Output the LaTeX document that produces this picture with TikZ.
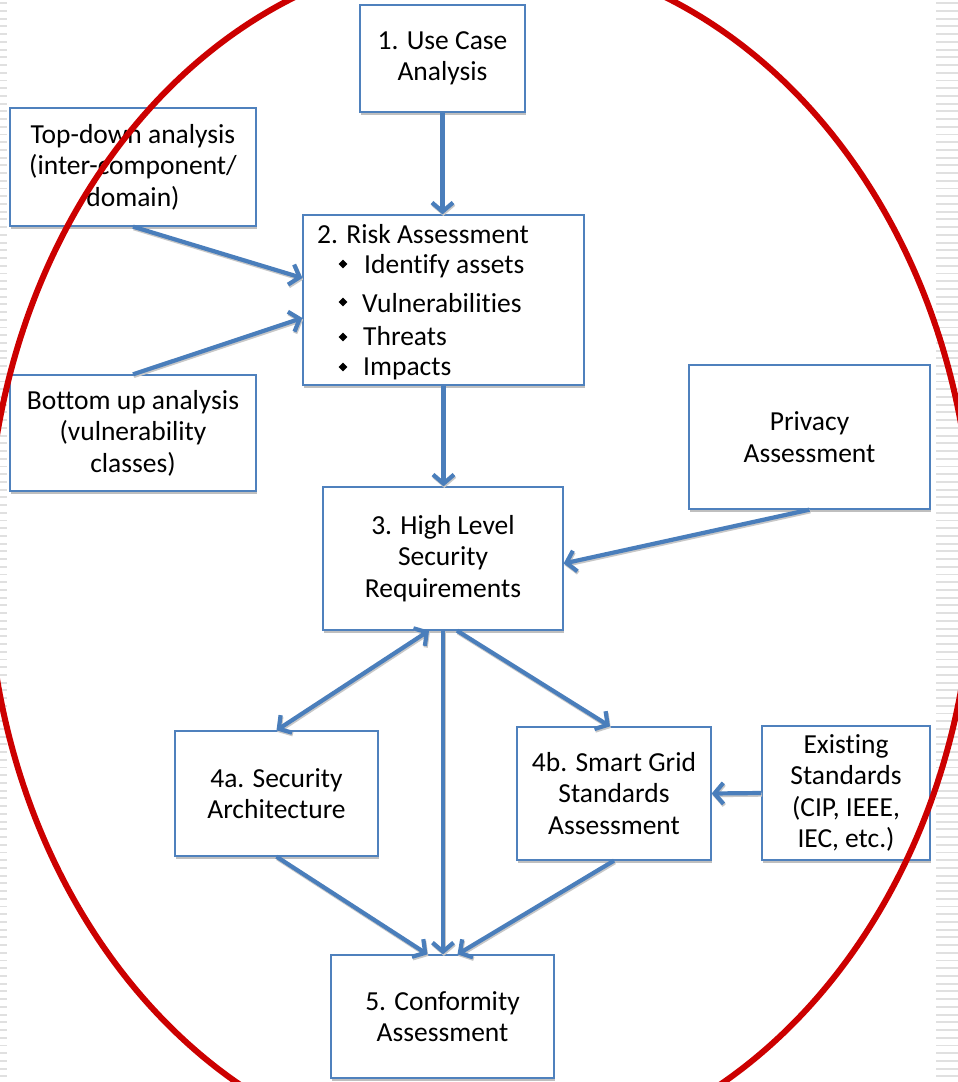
\documentclass[tikz,border=0pt]{standalone}
\usepackage{fontspec}
\setmainfont{Carlito}[Ligatures=NoCommon]
\usetikzlibrary{arrows.meta,shapes.geometric,shadows}
\definecolor{boxblue}{RGB}{79,129,189}
\definecolor{arrblue}{RGB}{74,126,187}
\definecolor{ellred}{RGB}{204,0,0}
\definecolor{stripecol}{RGB}{224,224,224}
\tikzset{
 box/.style={draw=boxblue, line width=1.3pt, fill=white, inner sep=0pt, align=center,
   font=\fontsize{27.5}{31.5}\selectfont,
   drop shadow={shadow xshift=0.6pt, shadow yshift=-2.6pt, fill=black, opacity=0.25}},
 txt/.style={inner sep=0pt, font=\fontsize{27.5}{31.5}\selectfont, anchor=base west},
 bul/.style={diamond, fill=black, inner sep=0pt, minimum size=9pt},
 tipb/.tip={Straight Barb[length=9pt,width=21pt]},
 arrshade/.style={preaction={draw=black!22, line width=4.2pt, transform canvas={xshift=0.8pt,yshift=-1.6pt}}},
 arr/.style={draw=arrblue, line width=4.2pt, -tipb, arrshade},
 dblarr/.style={draw=arrblue, line width=4.2pt, tipb-tipb, arrshade},
 ring/.style={draw=ellred, line width=6pt},
}
\begin{document}
\begin{tikzpicture}[x=1pt,y=-1pt]
\useasboundingbox (0,0) rectangle (958,1082);
\clip (0,0) rectangle (958,1082);
\fill[white] (0,0) rectangle (958,1082);
% slide background stripes
\foreach \i in {0,...,139} {
  \fill[stripecol] (0,{2.3+7.72*\i}) rectangle (7,{4.2+7.72*\i});
  \fill[stripecol] (936,{2.3+7.72*\i}) rectangle (958,{4.2+7.72*\i});
}
% boxes
\node[box, minimum width=165pt, minimum height=107pt] (uc) at (442.5,58.5) {1. Use Case\\Analysis};
\node[box, minimum width=246pt, minimum height=118pt] (td) at (133,167) {Top-down analysis\\(inter-component/\\domain)};
\node[box, minimum width=281pt, minimum height=170pt] (risk) at (443.5,300) {};
\node[box, minimum width=246pt, minimum height=116pt] (bu) at (133,433) {Bottom up analysis\\(vulnerability\\classes)};
\node[box, minimum width=241pt, minimum height=144pt] (priv) at (809.5,437) {Privacy\\Assessment};
\node[box, minimum width=240pt, minimum height=143pt] (hl) at (443,558.5) {3. High Level\\Security\\Requirements};
\node[box, minimum width=203pt, minimum height=125pt] (sa) at (276.5,793.5) {4a. Security\\Architecture};
\node[box, minimum width=194pt, minimum height=133pt] (sg) at (614,793.5) {4b. Smart Grid\\Standards\\Assessment};
\node[box, minimum width=168pt, minimum height=134pt] (es) at (846,793) {Existing\\Standards\\(CIP, IEEE,\\IEC, etc.)};
\node[box, minimum width=223pt, minimum height=123pt] (ca) at (442.5,1016.5) {5. Conformity\\Assessment};
% risk assessment contents
\node[txt] (rt) at (317,243) {2. Risk Assessment};
\node[bul] (d1) at (343,264) {}; \node[txt] (i1) at (364,273) {Identify assets};
\node[bul] (d2) at (343,302) {}; \node[txt] (i2) at (362,312) {Vulnerabilities};
\node[bul] (d3) at (343,337) {}; \node[txt] (i3) at (363,345) {Threats};
\node[bul] (d4) at (343,367) {}; \node[txt] (i4) at (363,375) {Impacts};
% connectors
\draw[arr] (uc.south) -- (uc.south |- risk.north);
\draw[arr] (td.south) -- ([yshift=22pt]risk.west);
\draw[arr] (bu.north) -- ([yshift=-18pt]risk.west);
\draw[arr] (risk.south) -- (risk.south |- hl.north);
\draw[arr] (priv.south) -- ([yshift=-5pt]hl.east);
\draw[dblarr] ([xshift=-14pt]hl.south) -- (sa.north);
\draw[arr] ([xshift=14pt]hl.south) -- ([xshift=-4pt]sg.north);
\draw[arr] (hl.south) -- (hl.south |- ca.north);
\draw[arr] (es.west) -- (sg.east);
\draw[arr] (sa.south) -- ([xshift=-15pt]ca.north);
\draw[arr] (sg.south) -- ([xshift=15pt]ca.north);
% red ellipse
\draw[ring] (480,557) ellipse [x radius=493pt, y radius=604pt];
\end{tikzpicture}
\end{document}
